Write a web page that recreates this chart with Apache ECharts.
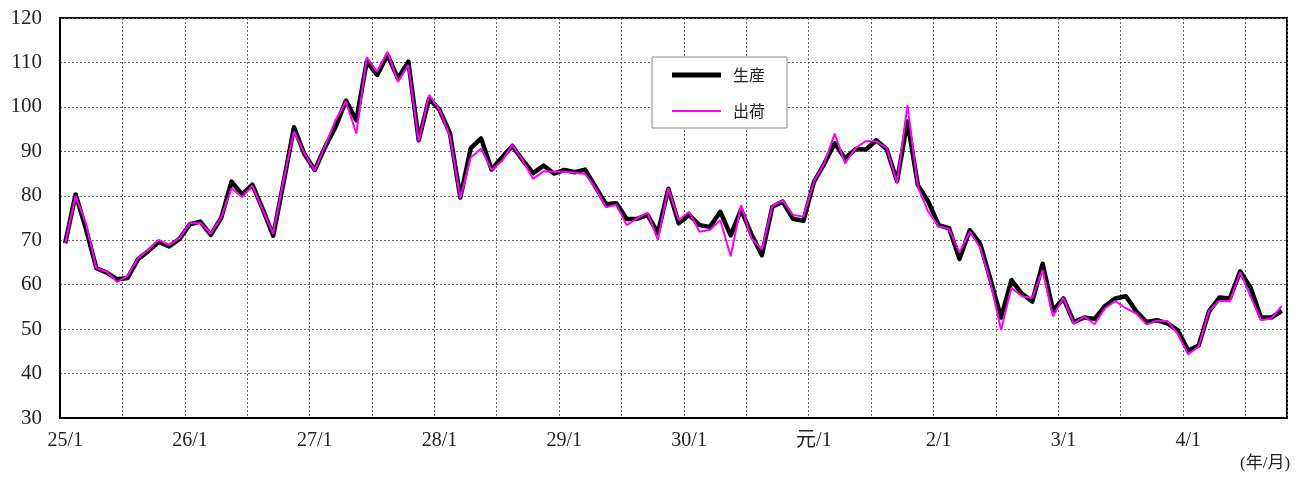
<!DOCTYPE html>
<html>
<head>
<meta charset="utf-8">
<script src="https://cdn.jsdelivr.net/npm/echarts@6/dist/echarts.min.js"></script>
<style>
html,body{margin:0;padding:0;background:#fff;}
#chart{width:1306px;height:477px;}
</style>
</head>
<body>
<div id="chart"></div>
<script>
// Year labels (Heisei 25 .. Reiwa 4), number of months shown
var yearLabels = ['25','26','27','28','29','30','元','2','3','4'];
var monthsShown = 118;
var seriesNames = ['生産', '出荷'];
var yTicks = {min: 30, max: 120, interval: 10};

// 生産 (production index)
var production = [
  69.3, 80.3, 72.5, 63.7, 62.7, 61.2, 61.5, 65.7, 67.6, 69.6, 68.6, 70.3,
  73.6, 74.2, 71.2, 75.0, 83.2, 80.3, 82.5, 77.0, 71.0, 83.0, 95.4, 89.4,
  85.8, 91.0, 95.5, 101.4, 97.0, 110.2, 107.2, 111.7, 106.4, 110.2, 92.5, 101.9,
  99.3, 94.1, 79.6, 90.7, 92.9, 85.9, 88.6, 91.2, 88.0, 85.1, 86.8, 85.0,
  85.8, 85.3, 85.9, 82.0, 78.1, 78.3, 74.8, 74.8, 75.7, 71.6, 81.6, 73.8,
  75.7, 73.4, 73.0, 76.4, 71.1, 76.9, 71.3, 66.6, 77.5, 78.7, 74.8, 74.4,
  83.1, 87.2, 91.8, 88.4, 90.5, 90.4, 92.5, 90.5, 83.3, 96.7, 82.4, 78.7,
  73.4, 72.7, 65.8, 72.3, 69.2, 61.0, 52.6, 61.0, 58.0, 56.2, 64.7, 54.2,
  56.9, 51.6, 52.6, 52.3, 55.2, 56.9, 57.4, 54.0, 51.6, 52.0, 51.3, 49.7,
  45.2, 46.3, 54.0, 57.1, 56.9, 63.0, 59.3, 52.6, 52.6, 54.1
];
// 出荷 (shipments index)
var shipments = [
  69.3, 80.0, 73.8, 63.7, 62.9, 60.6, 62.0, 65.9, 67.9, 70.1, 68.9, 70.5,
  73.8, 73.9, 71.5, 75.1, 81.7, 79.7, 82.3, 76.8, 71.5, 83.5, 94.5, 89.6,
  85.6, 91.3, 97.0, 101.2, 94.0, 111.2, 107.9, 112.4, 105.6, 109.4, 92.2, 102.7,
  99.4, 93.4, 79.4, 88.6, 90.6, 85.8, 87.8, 91.4, 88.0, 83.8, 85.5, 85.4,
  85.4, 85.2, 84.9, 81.8, 77.4, 78.0, 73.4, 74.9, 76.2, 70.1, 81.7, 74.5,
  76.4, 71.9, 72.3, 74.5, 66.4, 77.9, 70.4, 67.9, 77.7, 78.9, 75.7, 75.3,
  83.2, 87.3, 94.0, 87.3, 90.7, 92.3, 92.2, 90.8, 82.8, 100.4, 82.0, 76.4,
  73.1, 72.6, 67.2, 71.9, 68.3, 60.4, 49.8, 59.3, 57.4, 57.0, 63.3, 52.9,
  57.1, 51.2, 52.9, 51.1, 54.7, 56.3, 54.7, 53.5, 51.0, 51.9, 51.8, 48.9,
  44.3, 46.1, 54.1, 56.4, 56.2, 62.8, 57.3, 52.0, 52.4, 55.2
];

var categories = [];
for (var y = 0; y < yearLabels.length; y++) {
  for (var m = 1; m <= 12; m++) {
    if (categories.length < monthsShown) categories.push(yearLabels[y] + '/' + m);
  }
}

var serif = '"Liberation Serif", "DejaVu Serif", "Noto Sans CJK JP", serif';
var cjk = '"Noto Sans CJK JP", "Liberation Serif", serif';

var chart = echarts.init(document.getElementById('chart'), null, {renderer: 'canvas'});
chart.setOption({
  animation: false,
  backgroundColor: '#fff',
  grid: {left: 60, right: 19, top: 18, bottom: 59, show: true, borderColor: '#000', borderWidth: 2, containLabel: false},
  legend: {
    orient: 'vertical',
    left: 652, top: 57,
    backgroundColor: '#fff',
    borderColor: '#888', borderWidth: 1,
    padding: [10, 22, 9, 20],
    itemWidth: 49, itemHeight: 14, itemGap: 20,
    textStyle: {fontFamily: cjk, fontSize: 16, color: '#222', padding: [0, 0, 0, 7]},
    data: [
      {name: seriesNames[0], icon: 'path://M0,0L49,0L49,5L0,5Z', itemStyle: {color: '#000'}},
      {name: seriesNames[1], icon: 'path://M0,0L49,0L49,2L0,2Z', itemStyle: {color: '#ff00ff'}}
    ]
  },
  xAxis: {
    type: 'category',
    data: categories,
    boundaryGap: true,
    axisLine: {show: true, lineStyle: {color: '#000', width: 2}},
    axisTick: {show: false},
    axisLabel: {
      interval: 11,
      margin: 13,
      fontFamily: serif,
      fontSize: 20,
      color: '#222'
    },
    splitLine: {show: true, interval: 5, lineStyle: {color: '#666', width: 1, type: [2, 2]}}
  },
  yAxis: {
    type: 'value',
    min: yTicks.min, max: yTicks.max, interval: yTicks.interval,
    axisLine: {show: true, lineStyle: {color: '#000', width: 2}},
    axisTick: {show: false},
    axisLabel: {margin: 18, fontFamily: serif, fontSize: 21, color: '#222'},
    splitLine: {show: true, lineStyle: {color: '#666', width: 1, type: [2, 2]}}
  },
  series: [
    {
      name: seriesNames[0], type: 'line', data: production,
      symbol: 'none', lineStyle: {color: '#000', width: 4.5, join: 'round'}, itemStyle: {color: '#000'},
      z: 2
    },
    {
      name: seriesNames[1], type: 'line', data: shipments,
      symbol: 'none', lineStyle: {color: '#ff00ff', width: 2}, itemStyle: {color: '#ff00ff'},
      z: 3
    }
  ],
  graphic: [
    {type: 'text', left: 1240, top: 455, style: {text: '(年/月)', font: '17px ' + serif, fill: '#222'}}
  ]
});
</script>
</body>
</html>
